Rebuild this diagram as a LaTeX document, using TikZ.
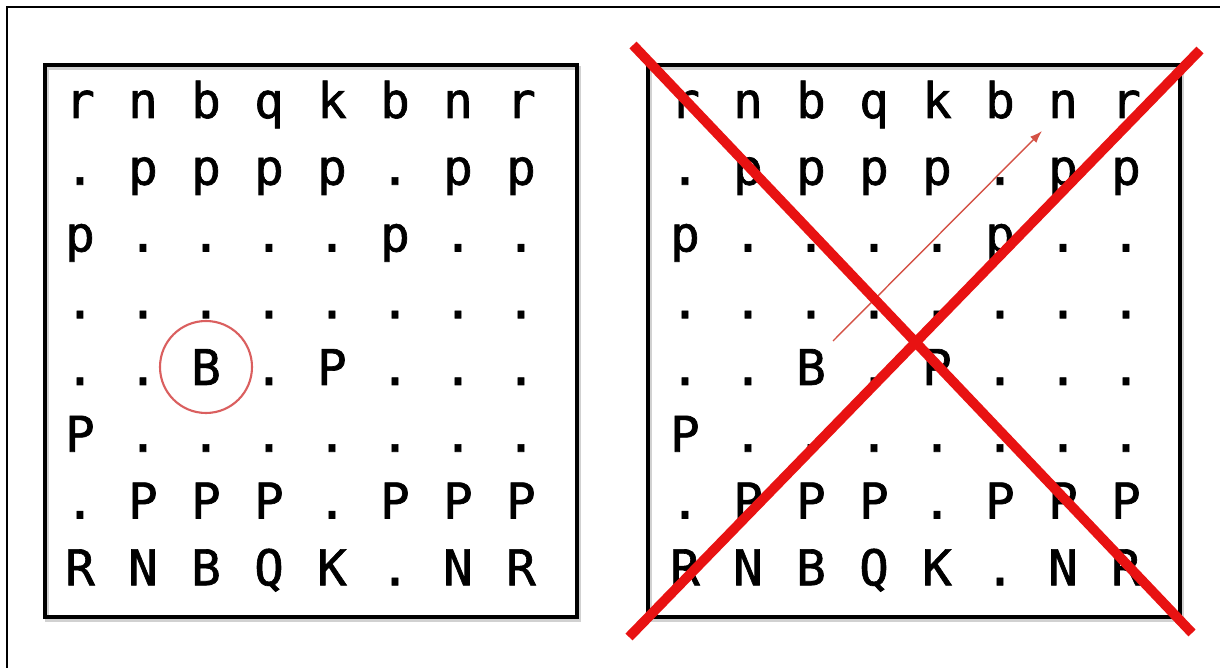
\documentclass[tikz,border=0pt]{standalone}
\usepackage{fontspec}
\newfontface\piecefont[FakeBold=1.3]{DejaVu Sans Mono}
\usetikzlibrary{arrows.meta}
\definecolor{xred}{RGB}{232,18,18}
\definecolor{circred}{RGB}{218,95,95}
\definecolor{arrred}{RGB}{212,82,70}
\tikzset{
  boardframe/.style={draw=black,line width=1.9pt},
  boardshadow/.style={draw=black!18,line width=2.6pt},
  piece/.style={anchor=base,inner sep=0pt,font=\piecefont\fontsize{28}{32}\selectfont},
  cross/.style={draw=xred,line width=5.6pt},
  ring/.style={draw=circred,line width=1.2pt,circle,inner sep=0pt,minimum size=92*0.02cm},
  movearrow/.style={draw=arrred,line width=0.8pt,-{Latex[length=7pt,width=5pt]}},
  frame/.style={draw=black,line width=1.3pt}
}
\begin{document}
\begin{tikzpicture}[x=0.02cm,y=-0.02cm]
\useasboundingbox (0,0) rectangle (1220,668);
% outer frame (left and top edges)
\draw[frame] (7,668) -- (7,7) -- (1220,7);
% board frames with soft shadow
\draw[boardshadow] (47,68) rectangle (579,620);
\draw[boardframe] (45,65) rectangle (577,617);
\draw[boardshadow] (650,68) rectangle (1182,620);
\draw[boardframe] (648,65) rectangle (1180,617);
% pieces
\foreach \row [count=\i] in {{r,n,b,q,k,b,n,r},{.,p,p,p,p,.,p,p},{p,.,.,.,.,p,.,.},{.,.,.,.,.,.,.,.},{.,.,B,.,P,.,.,.},{P,.,.,.,.,.,.,.},{.,P,P,P,.,P,P,P},{R,N,B,Q,K,.,N,R}}{
  \foreach \c [count=\j] in \row {
    \node[piece] (L\i-\j) at ({80+63*(\j-1)},{118+66.75*(\i-1)}) {\c};
    \node[piece] (R\i-\j) at ({685+63*(\j-1)},{118+66.75*(\i-1)}) {\c};
  }
}
% circle around bishop on left board
\node[ring] (ring) at (206,367) {};
% move arrow on right board
\coordinate (astart) at (833,341);
\coordinate (aend) at (1042,131);
\draw[movearrow] (astart) -- (aend);
% big red cross
\coordinate (xa1) at (633,45);
\coordinate (xa2) at (1192,633);
\coordinate (xb1) at (1200,50);
\coordinate (xb2) at (629,637);
\draw[cross] (xa1) -- (xa2);
\draw[cross] (xb1) -- (xb2);
\end{tikzpicture}
\end{document}
